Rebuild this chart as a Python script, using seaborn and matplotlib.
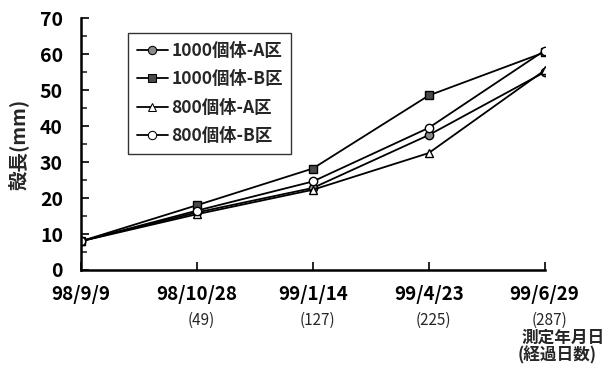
import numpy as np
import matplotlib
matplotlib.use("Agg")
import matplotlib.pyplot as plt
import pandas as pd
import seaborn as sns

# data
dates = ["98/9/9", "98/10/28", "99/1/14", "99/4/23", "99/6/29"]
days = ["", "(49)", "(127)", "(225)", "(287)"]
series = ["1000個体-A区", "1000個体-B区", "800個体-A区", "800個体-B区"]
a1000 = [8.0, 16.0, 22.8, 37.5, 55.0]
b1000 = [8.0, 18.0, 28.2, 48.5, 60.5]
a800 = [8.0, 15.5, 22.3, 32.5, 55.5]
b800 = [8.0, 16.5, 24.6, 39.5, 61.0]

rows = []
for name, vals in zip(series, [a1000, b1000, a800, b800]):
    for i, v in enumerate(vals):
        rows.append({"pos": i, "length": v, "group": name})
df = pd.DataFrame(rows)

sns.set_style("white")
plt.rcParams['font.family'] = ['Noto Sans CJK JP', 'DejaVu Sans']

fig = plt.figure(figsize=(6.06, 3.65), dpi=100)
ax = fig.add_axes([0.1337, 0.2603, 0.765, 0.690])

markers = {series[0]: "o", series[1]: "s", series[2]: "^", series[3]: "o"}
sns.lineplot(data=df, x="pos", y="length", hue="group", style="group",
             markers=markers, dashes=False, palette=["black"] * 4,
             linewidth=1.3, markersize=6, ax=ax, legend=True)

facecolors = ["#8a8a8a", "#4a4a4a", "white", "white"]
for line, fc in zip(ax.lines[:4], facecolors):
    line.set_markerfacecolor(fc)
    line.set_markeredgecolor("black")
    line.set_markeredgewidth(1.0)

ax.set_xlim(0, 4)
ax.set_ylim(0, 70)
ax.set_yticks(np.arange(0, 71, 10))
ax.set_yticks(np.arange(5, 70, 10), minor=True)
ax.set_xticks(range(len(dates)))
ax.set_xticklabels(dates, fontsize=13.5, fontweight="bold")
for lab in ax.get_yticklabels():
    lab.set_fontsize(14)
    lab.set_fontweight("bold")
ax.tick_params(axis="both", which="major", direction="in", length=6, width=1.2,
               left=True, bottom=True, colors="black")
ax.tick_params(axis="x", which="major", pad=11)
ax.tick_params(axis="y", which="major", pad=13)
ax.tick_params(axis="y", which="minor", direction="in", length=4, width=1.2, left=True)

for i, d in enumerate(days):
    ax.text(i + 0.04, -0.2, d, transform=ax.get_xaxis_transform(), ha="center",
            va="center", fontsize=11)

for s in ["top", "right"]:
    ax.spines[s].set_visible(False)
for s in ["left", "bottom"]:
    ax.spines[s].set_linewidth(1.8)
    ax.spines[s].set_color("black")

ax.set_xlabel("")
ax.set_ylabel("殻長(mm)", fontsize=14, fontweight="bold", labelpad=8)

leg = ax.legend(loc="upper left", bbox_to_anchor=(0.101, 0.94), borderaxespad=0,
                prop={"size": 12.5, "weight": "bold"},
                frameon=True, fancybox=False, edgecolor="black",
                labelspacing=0.6, handlelength=1.8, handletextpad=0.2,
                borderpad=0.5)
leg.get_frame().set_linewidth(1.0)
for h, fc in zip(leg.legend_handles, facecolors):
    h.set_markerfacecolor(fc)
    h.set_markeredgecolor("black")

fig.text(522 / 606, 1 - 338 / 365, "測定年月日", fontsize=12, fontweight="bold",
         ha="left", va="center")
fig.text(518 / 606, 1 - 355 / 365, "(経過日数)", fontsize=12, fontweight="bold",
         ha="left", va="center")

fig.savefig("out.png", dpi=100)
